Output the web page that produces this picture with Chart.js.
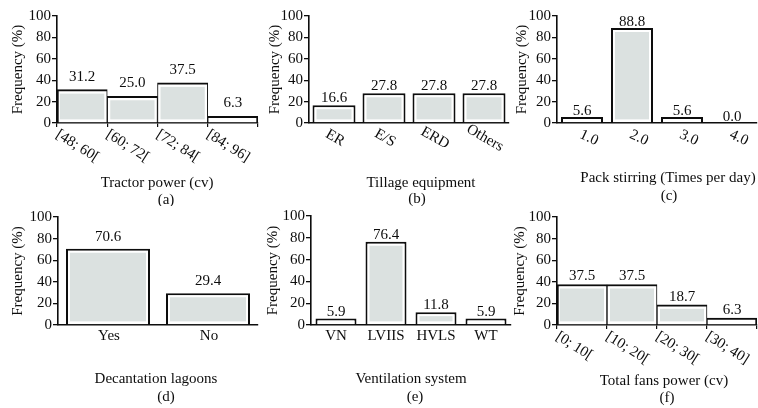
<!DOCTYPE html>
<html>
<head>
<meta charset="utf-8">
<script src="https://cdn.jsdelivr.net/npm/chart.js@4.4.1/dist/chart.umd.min.js"></script>
<style>
  html, body { margin: 0; padding: 0; background: #fff; }
  #wrap { position: relative; width: 758px; height: 408px; overflow: hidden; }
  #wrap canvas { position: absolute; }
</style>
</head>
<body>
<div id="wrap">
  <canvas id="ca"></canvas>
  <canvas id="cb"></canvas>
  <canvas id="cc"></canvas>
  <canvas id="cd"></canvas>
  <canvas id="ce"></canvas>
  <canvas id="cf"></canvas>
</div>
<script>
const FONT = "'Liberation Serif', 'Times New Roman', serif";
const FS = 15;
const INK = "#0d0d0d";
const FILL = "#dbe1e0";

const yTicks = [0, 20, 40, 60, 80, 100];

const tractorLabels = ["[48; 60[", "[60; 72[", "[72; 84[", "[84; 96]"];
const tractorValues = [31.2, 25.0, 37.5, 6.3];

const tillageLabels = ["ER", "E/S", "ERD", "Others"];
const tillageValues = [16.6, 27.8, 27.8, 27.8];

const stirringLabels = ["1.0", "2.0", "3.0", "4.0"];
const stirringValues = [5.6, 88.8, 5.6, 0.0];

const lagoonLabels = ["Yes", "No"];
const lagoonValues = [70.6, 29.4];

const ventLabels = ["VN", "LVIIS", "HVLS", "WT"];
const ventValues = [5.9, 76.4, 11.8, 5.9];

const fansLabels = ["[0; 10[", "[10; 20[", "[20; 30[", "[30; 40]"];
const fansValues = [37.5, 37.5, 18.7, 6.3];

function makePanel(id, labels, values, cfg) {
  const canvas = document.getElementById(id);
  canvas.width = cfg.width;
  canvas.height = cfg.height;
  canvas.style.left = cfg.left + "px";
  canvas.style.top = cfg.top + "px";
  canvas.style.width = cfg.width + "px";
  canvas.style.height = cfg.height + "px";

  const n = labels.length;

  const decor = {
    id: "decor" + id,
    afterDatasetsDraw(chart) {
      const ctx = chart.ctx;
      const meta = chart.getDatasetMeta(0);
      ctx.save();
      meta.data.forEach((bar, i) => {
        const p = bar.getProps(["x", "y", "base", "width"], true);
        const side = cfg.histogram ? 3 : 4;
        const l = p.x - p.width / 2 + side;
        const r = p.x + p.width / 2 - side;
        const t = p.y + 4;
        const b = p.base - 3;
        if (b - t > 0.5 && r > l) {
          ctx.fillStyle = FILL;
          ctx.fillRect(l, t, r - l, b - t);
        }
        ctx.fillStyle = INK;
        ctx.font = FS + "px " + FONT;
        ctx.textAlign = "center";
        ctx.textBaseline = "middle";
        ctx.fillText(values[i].toFixed(1), p.x, p.y - cfg.valueGap);
      });
      ctx.restore();
    },
    afterDraw(chart) {
      const ctx = chart.ctx;
      const area = chart.chartArea;
      const xs = chart.scales.x;
      const step = (area.right - area.left) / n;
      ctx.save();
      ctx.fillStyle = INK;
      ctx.font = FS + "px " + FONT;

      // category labels
      labels.forEach((lab, i) => {
        let x = xs.getPixelForValue(i);
        ctx.save();
        if (cfg.tickMode === "edge") {
          x = x - step / 2;
          ctx.translate(x + cfg.tickDx, area.bottom + cfg.tickDy);
          ctx.rotate(cfg.angle * Math.PI / 180);
          ctx.textAlign = "left";
          ctx.textBaseline = "top";
        } else {
          ctx.translate(x + cfg.tickDx, area.bottom + cfg.tickDy);
          ctx.rotate(cfg.angle * Math.PI / 180);
          ctx.textAlign = "center";
          ctx.textBaseline = "middle";
        }
        ctx.fillText(lab, 0, 0);
        ctx.restore();
      });

      // y title
      ctx.save();
      ctx.translate(cfg.yTitleX - cfg.left, (area.top + area.bottom) / 2);
      ctx.rotate(-Math.PI / 2);
      ctx.textAlign = "center";
      ctx.textBaseline = "middle";
      ctx.fillText("Frequency (%)", 0, 0);
      ctx.restore();

      // x title and caption
      ctx.textAlign = "center";
      ctx.textBaseline = "alphabetic";
      ctx.fillText(cfg.xTitle, cfg.titleX - cfg.left, cfg.titleY - cfg.top);
      ctx.fillText(cfg.caption, cfg.capX - cfg.left, cfg.capY - cfg.top);
      ctx.restore();
    }
  };

  const borderFor = (c) => {
    if (!cfg.histogram) return 2;
    return {
      top: 2,
      left: c.dataIndex === 0 ? 2 : 1,
      right: c.dataIndex === n - 1 ? 2 : 1,
      bottom: 0
    };
  };

  return new Chart(canvas, {
    type: "bar",
    data: {
      labels: labels,
      datasets: [{
        data: values,
        backgroundColor: "#ffffff",
        borderColor: INK,
        borderWidth: borderFor,
        borderSkipped: "start",
        barPercentage: cfg.histogram ? 1 : cfg.barPct,
        categoryPercentage: 1
      }]
    },
    options: {
      responsive: false,
      animation: false,
      events: [],
      layout: {
        padding: {
          top: cfg.plotTop - cfg.top,
          right: cfg.left + cfg.width - cfg.right,
          bottom: 0,
          left: 0
        }
      },
      plugins: {
        legend: { display: false },
        tooltip: { enabled: false },
        title: { display: false }
      },
      scales: {
        x: {
          type: "category",
          offset: true,
          z: 1,
          grid: {
            display: !!cfg.histogram,
            offset: true,
            drawOnChartArea: false,
            drawTicks: true,
            tickLength: 4,
            color: INK,
            lineWidth: 1.2
          },
          border: { display: true, color: INK, width: 1.6 },
          ticks: { display: false },
          afterFit(scale) {
            scale.height = cfg.top + cfg.height - cfg.plotBottom;
          }
        },
        y: {
          min: 0,
          max: 100,
          z: 1,
          afterBuildTicks(scale) {
            scale.ticks = yTicks.map(v => ({ value: v }));
          },
          grid: {
            display: true,
            drawOnChartArea: false,
            drawTicks: true,
            tickLength: 5,
            color: INK,
            lineWidth: 1.3
          },
          border: { display: true, color: INK, width: 1.6 },
          ticks: {
            color: INK,
            padding: 1,
            font: { family: FONT, size: FS }
          },
          afterFit(scale) {
            scale.width = cfg.axisX - cfg.left;
          }
        }
      }
    },
    plugins: [decor]
  });
}

makePanel("ca", tractorLabels, tractorValues, {
  left: 0, top: 0, width: 262, height: 206,
  axisX: 57, right: 258, plotTop: 16, plotBottom: 123,
  histogram: true, tickMode: "edge", angle: 32, tickDx: 4, tickDy: 4,
  valueGap: 13, yTitleX: 18,
  xTitle: "Tractor power (cv)", titleX: 157, titleY: 187,
  caption: "(a)", capX: 166, capY: 204
});

makePanel("cb", tillageLabels, tillageValues, {
  left: 258, top: 0, width: 254, height: 206,
  axisX: 309, right: 509, plotTop: 16, plotBottom: 123,
  histogram: false, barPct: 0.86, tickMode: "center", angle: 30, tickDx: 1, tickDy: 15,
  valueGap: 7, yTitleX: 275,
  xTitle: "Tillage equipment", titleX: 421, titleY: 187,
  caption: "(b)", capX: 417, capY: 203
});

makePanel("cc", stirringLabels, stirringValues, {
  left: 510, top: 0, width: 248, height: 206,
  axisX: 557, right: 757, plotTop: 16, plotBottom: 123,
  histogram: false, barPct: 0.84, tickMode: "center", angle: 25, tickDx: 7, tickDy: 15,
  valueGap: 6, yTitleX: 522,
  xTitle: "Pack stirring (Times per day)", titleX: 668, titleY: 182,
  caption: "(c)", capX: 669, capY: 200
});

makePanel("cd", lagoonLabels, lagoonValues, {
  left: 0, top: 200, width: 262, height: 208,
  axisX: 58, right: 258, plotTop: 217, plotBottom: 325,
  histogram: false, barPct: 0.84, tickMode: "center", angle: 0, tickDx: 1, tickDy: 11,
  valueGap: 12, yTitleX: 18,
  xTitle: "Decantation lagoons", titleX: 156, titleY: 383,
  caption: "(d)", capX: 166, capY: 401
});

makePanel("ce", ventLabels, ventValues, {
  left: 258, top: 200, width: 254, height: 208,
  axisX: 311, right: 511, plotTop: 216, plotBottom: 325,
  histogram: false, barPct: 0.82, tickMode: "center", angle: 0, tickDx: 0, tickDy: 11,
  valueGap: 7, yTitleX: 273,
  xTitle: "Ventilation system", titleX: 411, titleY: 383,
  caption: "(e)", capX: 415, capY: 401
});

makePanel("cf", fansLabels, fansValues, {
  left: 510, top: 200, width: 248, height: 208,
  axisX: 557, right: 757, plotTop: 217, plotBottom: 325,
  histogram: true, tickMode: "edge", angle: 32, tickDx: 4, tickDy: 4,
  valueGap: 8, yTitleX: 520,
  xTitle: "Total fans power (cv)", titleX: 664, titleY: 385,
  caption: "(f)", capX: 667, capY: 402
});
</script>
</body>
</html>
